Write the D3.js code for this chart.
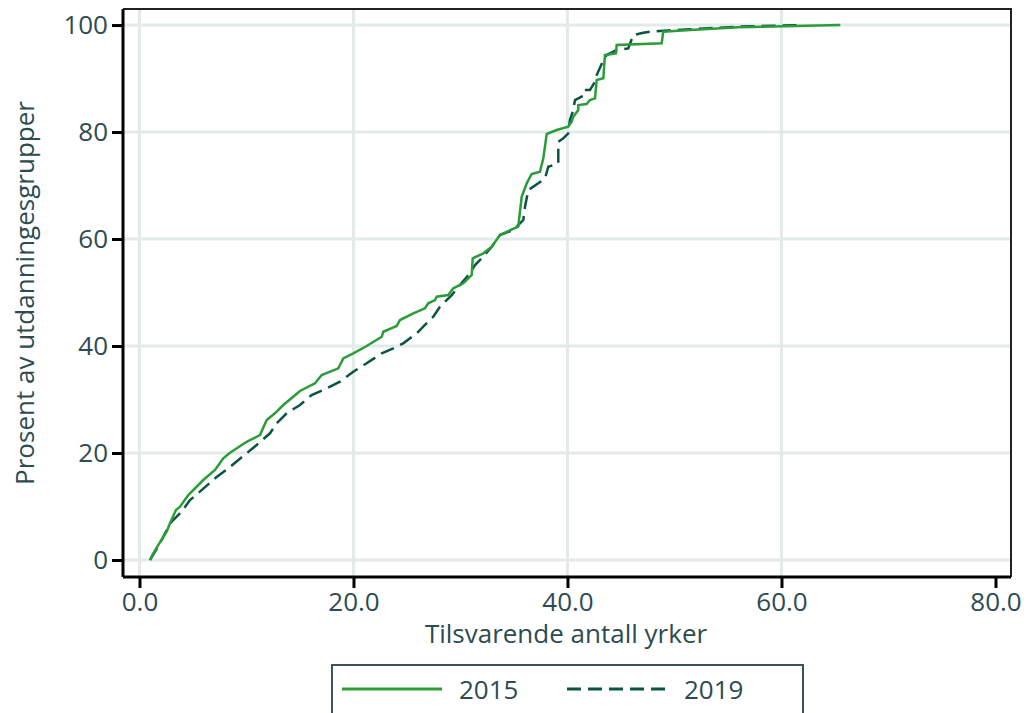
<!DOCTYPE html>
<html>
<head>
<meta charset="utf-8">
<script src="https://cdn.jsdelivr.net/npm/d3@7"></script>
<style>
  body { margin: 0; background: #fff; }
  text { font-family: "Open Sans", "Noto Sans", sans-serif; fill: #2d4b50; }
</style>
</head>
<body>
<svg id="chart" width="1030" height="713"></svg>
<script>
// series: [antall yrker, prosent]
var years = ["2015", "2019"];
var xTicks = [0, 20, 40, 60, 80];
var yTicks = [0, 20, 40, 60, 80, 100];

var x2015 = [0.98, 1.29, 1.85, 2.54, 2.85, 3.41, 3.79, 4.56, 5.96, 7.06, 7.83, 8.46, 10.02, 11.26, 11.89, 12.66, 13.44, 14.37,
  15.0, 16.4, 17.03, 18.58, 19.05, 19.98, 21.23, 22.64, 22.79, 24.04, 24.35, 25.59, 26.68, 26.99, 27.62, 27.78, 28.86, 29.33,
  30.26, 31.05, 31.14, 32.13, 32.92, 33.69, 34.0, 35.4, 35.72, 36.19, 36.65, 37.43, 37.74, 38.06, 38.99, 40.07, 40.39, 40.54,
  41.01, 41.01, 41.79, 42.1, 42.57, 42.73, 43.35, 43.5, 44.53, 44.6, 48.8, 48.95, 51.45, 56.0, 65.5];
var y2015 = [0, 1.25, 3.12, 5.29, 6.86, 9.35, 9.96, 12.15, 14.95, 16.82, 19.0, 20.06, 22.1, 23.36, 26.17, 27.42, 28.97, 30.52,
  31.6, 33.03, 34.58, 35.83, 37.7, 38.64, 40.0, 41.74, 42.67, 43.74, 44.86, 46.11, 47.05, 47.98, 48.6, 49.21, 49.53, 50.79,
  51.72, 53.27, 56.39, 57.33, 58.56, 60.75, 61.07, 62.3, 67.9, 70.41, 72.15, 72.58, 75.08, 79.63, 80.37, 81.0, 81.93, 82.86,
  84.11, 85.05, 85.23, 85.98, 86.3, 89.72, 90.04, 94.39, 94.71, 96.26, 96.58, 98.75, 99.07, 99.6, 100];

var x2019 = [0.98, 1.45, 1.92, 2.38, 3.01, 3.94, 4.72, 5.65, 7.06, 8.3, 9.7, 10.95, 12.2, 12.82, 13.76, 15.0, 16.09, 17.18,
  18.74, 19.98, 21.23, 22.64, 23.72, 24.65, 25.91, 26.68, 27.46, 28.08, 29.18, 29.95, 30.89, 31.36, 32.13, 32.92, 33.69, 34.93,
  35.87, 36.03, 36.34, 37.27, 37.9, 38.21, 39.14, 39.14, 39.61, 40.07, 40.23, 40.54, 40.7, 41.33, 41.48, 42.1, 42.57, 42.73,
  43.35, 43.66, 44.6, 45.68, 46.15, 47.08, 47.71, 48.95, 51.45, 56.0, 62.0];
var y2019 = [0, 1.55, 3.12, 4.99, 7.16, 9.03, 11.21, 12.77, 15.27, 17.14, 19.44, 21.5, 23.68, 25.55, 27.42, 28.97, 30.84, 31.78,
  33.33, 35.2, 36.77, 38.64, 39.57, 40.5, 42.37, 43.93, 45.48, 47.35, 49.53, 51.4, 53.59, 55.14, 56.69, 58.56, 60.75, 61.68,
  63.55, 66.04, 69.16, 70.41, 71.35, 73.51, 74.15, 78.19, 78.82, 79.76, 82.24, 84.11, 85.98, 86.6, 87.85, 87.85, 89.4, 90.65,
  93.46, 94.39, 95.33, 95.64, 98.13, 98.56, 98.75, 98.94, 99.2, 99.7, 100];

var colors = ["#2a9d38", "#0a5444"];
var dashes = [null, "14,7"];

var svg = d3.select("#chart");
var pLeft = 123, pRight = 1011, pTop = 9, pBottom = 577;

var x = d3.scaleLinear().domain([-1.54, 81.45]).range([pLeft, pRight]);
var y = d3.scaleLinear().domain([-3.18, 103]).range([pBottom, pTop]);

//grid lines
svg.append("g").selectAll("line").data(xTicks.slice(0, 4)).enter().append("line")
    .attr("x1", function(d) { return x(d); }).attr("x2", function(d) { return x(d); })
    .attr("y1", pTop).attr("y2", pBottom)
    .attr("stroke", "#e4eae9").attr("stroke-width", 3);
svg.append("g").selectAll("line").data(yTicks).enter().append("line")
    .attr("x1", pLeft).attr("x2", pRight)
    .attr("y1", function(d) { return y(d); }).attr("y2", function(d) { return y(d); })
    .attr("stroke", "#e4eae9").attr("stroke-width", 3);

//frame top and right
svg.append("path")
    .attr("d", "M" + pLeft + "," + pTop + "H" + pRight + "V" + pBottom)
    .attr("fill", "none").attr("stroke", "#222").attr("stroke-width", 2);

//the two lines
var line = d3.line()
    .x(function(d) { return x(d[0]); })
    .y(function(d) { return y(d[1]); });
var series = [d3.zip(x2015, y2015), d3.zip(x2019, y2019)];
for (var i = series.length - 1; i >= 0; i--) {
    svg.append("path")
        .datum(series[i])
        .attr("d", line)
        .attr("fill", "none")
        .attr("stroke", colors[i])
        .attr("stroke-width", 2.5)
        .attr("stroke-dasharray", dashes[i]);
}

//axes
var xAxis = svg.append("g").attr("transform", "translate(0," + pBottom + ")")
    .call(d3.axisBottom(x).tickValues(xTicks).tickSize(11).tickPadding(5)
        .tickFormat(function(d) { return d3.format(".1f")(d); }));
var yAxis = svg.append("g").attr("transform", "translate(" + pLeft + ",0)")
    .call(d3.axisLeft(y).tickValues(yTicks).tickSize(11).tickPadding(4));
[xAxis, yAxis].forEach(function(a) {
    a.select(".domain").attr("stroke", "#000").attr("stroke-width", 3);
    a.selectAll(".tick line").attr("stroke", "#000").attr("stroke-width", 3);
    a.selectAll(".tick text").style("font-size", "26px").attr("fill", "#2d4b50");
});
xAxis.select(".domain").attr("d", "M" + pLeft + ",0H" + pRight);
yAxis.select(".domain").attr("d", "M0," + pTop + "V" + pBottom);

//axis titles
svg.append("text").attr("x", 566).attr("y", 643)
    .attr("text-anchor", "middle").style("font-size", "26px")
    .text("Tilsvarende antall yrker");
svg.append("text").attr("transform", "translate(34,293) rotate(-90)")
    .attr("text-anchor", "middle").style("font-size", "26px")
    .text("Prosent av utdanningesgrupper");

//legend
svg.append("rect").attr("x", 332).attr("y", 665).attr("width", 471).attr("height", 60)
    .attr("fill", "#fff").attr("stroke", "#3d5456").attr("stroke-width", 2);
var legX = [342, 567];
years.forEach(function(yr, i) {
    svg.append("line").attr("x1", legX[i]).attr("x2", legX[i] + 100)
        .attr("y1", 689).attr("y2", 689)
        .attr("stroke", colors[i]).attr("stroke-width", 3)
        .attr("stroke-dasharray", dashes[i]);
    svg.append("text").attr("x", legX[i] + 117).attr("y", 699)
        .style("font-size", "26px").text(yr);
});
</script>
</body>
</html>
